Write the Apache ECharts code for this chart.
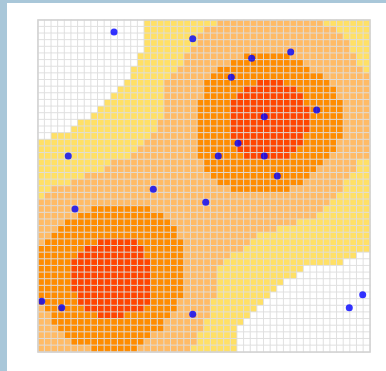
<!DOCTYPE html>
<html>
<head>
<meta charset="utf-8">
<script src="https://cdn.jsdelivr.net/npm/echarts@6/dist/echarts.min.js"></script>
<style>
html,body{margin:0;padding:0;background:#fff;}
#c{width:386px;height:371px;}
</style>
</head>
<body>
<div id="c"></div>
<script>
// level classes: 0 white, 1 yellow, 2 light orange, 3 orange, 4 red
const levelColors = ['#ffffff', '#ffe066', '#ffbb66', '#ff8c00', '#ff4500'];

// run-length rows (top row first): "level:count"
const rowRuns = [
  '0:16,1:11,2:16,1:7',
  '0:16,1:9,2:20,1:5',
  '0:16,1:8,2:22,1:4',
  '0:16,1:8,2:23,1:3',
  '0:16,1:7,2:24,1:3',
  '0:15,1:7,2:9,3:7,2:10,1:2',
  '0:15,1:7,2:7,3:11,2:8,1:2',
  '0:14,1:7,2:6,3:14,2:8,1:1',
  '0:14,1:6,2:6,3:17,2:7',
  '0:13,1:6,2:6,3:8,4:4,3:7,2:6',
  '0:12,1:7,2:6,3:6,4:8,3:6,2:5',
  '0:11,1:8,2:6,3:5,4:10,3:5,2:5',
  '0:10,1:9,2:5,3:5,4:11,3:6,2:4',
  '0:9,1:10,2:5,3:5,4:12,3:5,2:4',
  '0:8,1:11,2:5,3:5,4:12,3:5,2:4',
  '0:6,1:12,2:6,3:5,4:12,3:5,2:4',
  '0:5,1:13,2:6,3:5,4:12,3:5,2:4',
  '0:2,1:15,2:7,3:5,4:11,3:6,2:4',
  '1:16,2:8,3:6,4:10,3:5,2:5',
  '1:15,2:9,3:6,4:9,3:6,2:5',
  '1:14,2:10,3:7,4:7,3:6,2:6',
  '1:11,2:14,3:18,2:5,1:2',
  '1:10,2:15,3:17,2:6,1:2',
  '1:7,2:19,3:15,2:6,1:3',
  '1:5,2:22,3:13,2:6,1:4',
  '1:2,2:27,3:9,2:8,1:4',
  '1:1,2:44,1:5',
  '2:44,1:6',
  '2:8,3:9,2:26,1:7',
  '2:6,3:13,2:23,1:8',
  '2:4,3:16,2:19,1:11',
  '2:3,3:18,2:15,1:14',
  '2:2,3:19,2:12,1:17',
  '2:1,3:8,4:6,3:7,2:10,1:18',
  '3:7,4:9,3:6,2:9,1:19',
  '3:6,4:10,3:6,2:7,1:19,0:2',
  '3:5,4:12,3:5,2:6,1:18,0:4',
  '3:5,4:12,3:5,2:5,1:13,0:10',
  '3:5,4:12,3:5,2:5,1:12,0:11',
  '3:5,4:12,3:5,2:5,1:10,0:13',
  '3:5,4:12,3:5,2:5,1:9,0:14',
  '3:6,4:11,3:5,2:5,1:8,0:15',
  '3:6,4:11,3:4,2:5,1:8,0:16',
  '2:1,3:6,4:9,3:5,2:5,1:7,0:17',
  '2:2,3:7,4:4,3:7,2:6,1:6,0:18',
  '2:2,3:17,2:6,1:6,0:19',
  '2:3,3:16,2:6,1:5,0:20',
  '2:4,3:13,2:7,1:6,0:20',
  '2:5,3:11,2:8,1:6,0:20',
  '2:8,3:7,2:8,1:7,0:20'
];

// sample points, in grid units (x right, y up), 0..50
const pointX = [11.45, 23.30, 32.18, 38.06, 29.11, 41.97, 34.08, 30.12, 27.15, 34.08, 36.04, 4.56, 17.36, 25.26, 5.57, 0.56, 3.57, 23.30, 48.90, 46.88];
const pointY = [48.19, 47.18, 44.23, 45.18, 41.37, 36.45, 35.44, 31.43, 29.52, 29.52, 26.51, 29.52, 24.50, 22.55, 21.54, 7.63, 6.67, 5.68, 8.63, 6.67];

const N = 50;
const cols = [], rows = [];
for (let i = 0; i < N; i++) { cols.push(String(i)); rows.push(String(i)); }

const cells = [];
rowRuns.forEach(function (s, r) {
  let c = 0;
  s.split(',').forEach(function (seg) {
    const p = seg.split(':');
    const lv = +p[0], n = +p[1];
    for (let k = 0; k < n && c < N; k++, c++) cells.push([c, r, lv]);
  });
});

const pts = pointX.map(function (x, i) { return [x, pointY[i]]; });

const chart = echarts.init(document.getElementById('c'), null, {renderer: 'canvas'});
chart.setOption({
  animation: false,
  backgroundColor: '#ffffff',
  grid: {left: 38, top: 20, width: 332, height: 332, show: false},
  xAxis: [
    {type: 'category', data: cols, show: false},
    {type: 'value', min: 0, max: 50, show: false}
  ],
  yAxis: [
    {type: 'category', data: rows, inverse: true, show: false},
    {type: 'value', min: 0, max: 50, show: false}
  ],
  visualMap: {
    type: 'piecewise', show: false, seriesIndex: 0, dimension: 2,
    pieces: levelColors.map(function (col, i) { return {value: i, color: col}; })
  },
  series: [
    {
      type: 'heatmap', xAxisIndex: 0, yAxisIndex: 0, data: cells,
      itemStyle: {borderColor: 'rgba(222,222,222,0.9)', borderWidth: 1},
      emphasis: {disabled: true}
    },
    {
      type: 'scatter', xAxisIndex: 1, yAxisIndex: 1, data: pts,
      symbolSize: 7, itemStyle: {color: '#0000ff'}, z: 5
    }
  ],
  graphic: [
    {type: 'rect', shape: {x: 0, y: 0, width: 7, height: 371}, style: {fill: '#a9c7d9'}, z: 10},
    {type: 'rect', shape: {x: 0, y: 0, width: 386, height: 3}, style: {fill: '#a9c7d9'}, z: 10},
    {type: 'rect', shape: {x: 38, y: 20, width: 332, height: 332}, style: {fill: null, stroke: '#d2d2d2', lineWidth: 1.5}, z: 10}
  ]
});
</script>
</body>
</html>
